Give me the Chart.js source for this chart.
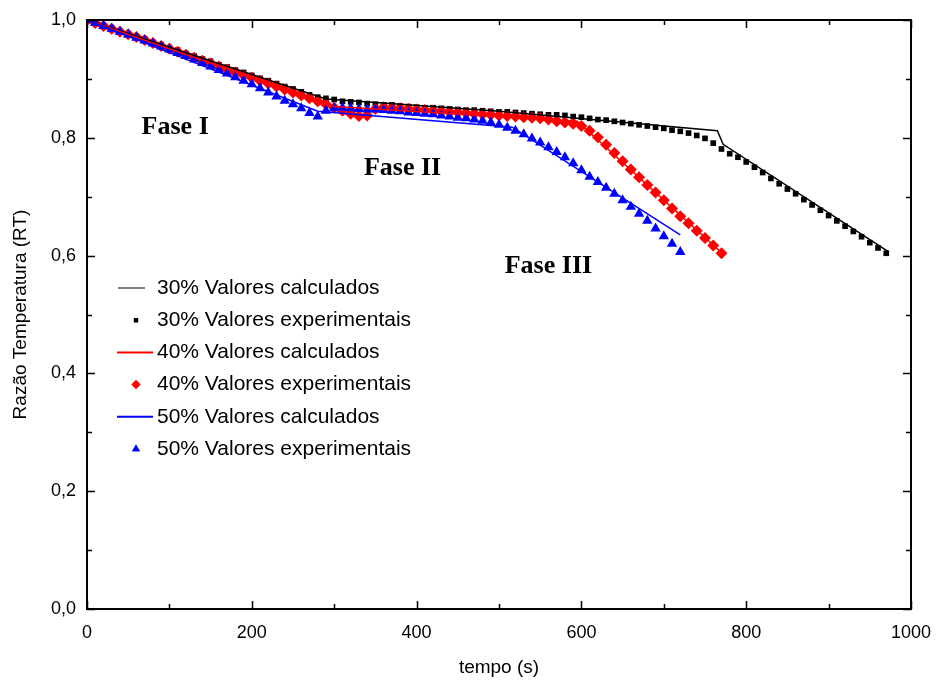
<!DOCTYPE html>
<html>
<head>
<meta charset="utf-8">
<script src="https://cdn.jsdelivr.net/npm/chart.js@4.4.1/dist/chart.umd.min.js"></script>
<style>
  html, body { margin: 0; padding: 0; background: #fff; }
  #wrap { width: 936px; height: 683px; }
</style>
</head>
<body>
<div id="wrap"><canvas id="rtChart" width="936" height="683"></canvas></div>
<script>
// tempo (s), one reading every 10 s
const tempo = [0,10,20,30,40,50,60,70,80,90,100,110,120,130,140,150,160,170,180,190,
  200,210,220,230,240,250,260,270,280,290,300,310,320,330,340,350,360,370,380,390,
  400,410,420,430,440,450,460,470,480,490,500,510,520,530,540,550,560,570,580,590,
  600,610,620,630,640,650,660,670,680,690,700,710,720,730,740,750,760,770,780,790,
  800,810,820,830,840,850,860,870,880,890,900,910,920,930,940,950,960,970]

// experimental values (RT)
const exp30 = [1.000,0.996,0.991,0.987,0.981,0.977,0.972,0.968,0.962,0.958,
  0.953,0.949,0.943,0.939,0.934,0.930,0.924,0.920,0.915,0.911,
  0.906,0.901,0.897,0.892,0.887,0.883,0.878,0.873,0.869,0.867,
  0.865,0.862,0.861,0.860,0.858,0.857,0.856,0.856,0.854,0.853,
  0.852,0.851,0.851,0.850,0.849,0.848,0.847,0.847,0.846,0.845,
  0.844,0.844,0.843,0.842,0.841,0.840,0.839,0.839,0.838,0.836,
  0.835,0.833,0.831,0.830,0.828,0.826,0.824,0.822,0.820,0.818,
  0.816,0.813,0.811,0.808,0.804,0.799,0.791,0.781,0.773,0.767,
  0.759,0.750,0.741,0.731,0.722,0.713,0.705,0.695,0.686,0.677,
  0.668,0.659,0.650,0.641,0.632,0.622,0.613,0.604]
const exp40 = [1.000,0.995,0.990,0.985,0.980,0.976,0.971,0.966,0.961,0.956,
  0.951,0.946,0.941,0.936,0.931,0.926,0.921,0.916,0.911,0.906,
  0.902,0.897,0.892,0.887,0.882,0.877,0.872,0.867,0.862,0.857,
  0.851,0.846,0.841,0.837,0.838,0.849,0.852,0.851,0.850,0.849,
  0.848,0.847,0.846,0.845,0.844,0.843,0.842,0.841,0.840,0.839,
  0.838,0.837,0.836,0.835,0.834,0.833,0.831,0.828,0.826,0.824,
  0.820,0.812,0.801,0.788,0.774,0.760,0.746,0.733,0.720,0.707,
  0.694,0.680,0.667,0.655,0.642,0.630,0.617,0.604]
const exp50 = [1.000,0.995,0.990,0.985,0.980,0.975,0.970,0.965,0.960,0.955,
  0.950,0.944,0.939,0.933,0.927,0.921,0.915,0.909,0.903,0.897,
  0.891,0.884,0.877,0.870,0.863,0.857,0.850,0.842,0.836,0.846,
  0.850,0.851,0.850,0.849,0.848,0.848,0.847,0.846,0.845,0.843,
  0.842,0.841,0.840,0.838,0.836,0.834,0.833,0.831,0.829,0.826,
  0.822,0.817,0.812,0.806,0.799,0.792,0.784,0.776,0.767,0.757,
  0.745,0.734,0.725,0.715,0.705,0.694,0.683,0.671,0.659,0.646,
  0.633,0.620,0.606]

// calculated values (RT)
const calc30T = [0, 290, 500, 765, 772, 972]
const calc30V = [1.000, 0.866, 0.845, 0.812, 0.789, 0.607]
const calc40T = [0, 300, 595, 770]
const calc40V = [1.000, 0.853, 0.828, 0.605]
const calc50T = [0, 280, 516, 720]
const calc50V = [1.000, 0.845, 0.818, 0.635]

const faseLabels = ['Fase I', 'Fase II', 'Fase III']
const faseT = [107, 383, 560]
const faseV = [0.818, 0.749, 0.582]

const xTicks = [0, 200, 400, 600, 800, 1000]
const yTicks = [0, 0.2, 0.4, 0.6, 0.8, 1.0]

const pts = (xs, ys) => ys.map((v, i) => ({ x: xs[i], y: v }))

const legendItems = [
  { text: '30% Valores calculados', color: '#000', kind: 'line', x0: 118, x1: 145 },
  { text: '30% Valores experimentais', color: '#000', kind: 'rect', r: 3 },
  { text: '40% Valores calculados', color: '#ff0000', kind: 'line', x0: 117, x1: 153 },
  { text: '40% Valores experimentais', color: '#ff0000', kind: 'rectRot', r: 4.5 },
  { text: '50% Valores calculados', color: '#0000ff', kind: 'line', x0: 117, x1: 153 },
  { text: '50% Valores experimentais', color: '#0000ff', kind: 'triangle', r: 4.5 }
]

const framePlugin = {
  id: 'frame',
  afterDatasetsDraw(chart) {
    const { ctx, chartArea: a, scales } = chart
    const x = scales.x, y = scales.y
    ctx.save()
    ctx.strokeStyle = '#000'
    ctx.lineWidth = 2
    ctx.strokeRect(a.left, a.top, a.right - a.left, a.bottom - a.top)
    ctx.lineWidth = 1.5
    ctx.beginPath()
    for (let v = 0; v <= 1000; v += 100) {
      const px = Math.round(x.getPixelForValue(v)) + 0.5
      const len = v % 200 === 0 ? 8 : 5
      ctx.moveTo(px, a.bottom); ctx.lineTo(px, a.bottom - len)
      ctx.moveTo(px, a.top); ctx.lineTo(px, a.top + len)
    }
    for (let k = 0; k <= 10; k++) {
      const py = Math.round(y.getPixelForValue(k / 10)) + 0.5
      const len = k % 2 === 0 ? 8 : 5
      ctx.moveTo(a.left, py); ctx.lineTo(a.left + len, py)
      ctx.moveTo(a.right, py); ctx.lineTo(a.right - len, py)
    }
    ctx.stroke()

    // phase labels
    ctx.fillStyle = '#000'
    ctx.font = 'bold 26px "Liberation Serif", "Times New Roman", serif'
    ctx.textAlign = 'center'
    ctx.textBaseline = 'middle'
    faseLabels.forEach((t, i) => {
      ctx.fillText(t, x.getPixelForValue(faseT[i]), y.getPixelForValue(faseV[i]))
    })

    // legend inside the plot
    ctx.font = '21px "Liberation Sans", Arial, sans-serif'
    ctx.textAlign = 'left'
    legendItems.forEach((it, i) => {
      const ly = 288 + i * 32.2
      ctx.fillStyle = it.color
      ctx.strokeStyle = it.color
      if (it.kind === 'line') {
        ctx.lineWidth = it.color === '#000' ? 1 : 2
        ctx.beginPath(); ctx.moveTo(it.x0, ly); ctx.lineTo(it.x1, ly); ctx.stroke()
      } else {
        Chart.helpers.drawPoint(ctx, { pointStyle: it.kind, radius: it.r, borderWidth: 0 }, 136, ly)
        ctx.fill()
      }
      ctx.fillStyle = '#000'
      ctx.fillText(it.text, 157, ly)
    })
    ctx.restore()
  }
}

const ctx = document.getElementById('rtChart').getContext('2d')
const config = {
  type: 'scatter',
  data: {
    datasets: [
      { label: '50% Valores calculados', data: pts(calc50T, calc50V), showLine: true,
        borderColor: '#0000ff', borderWidth: 1.5, pointRadius: 0, order: 1 },
      { label: '40% Valores calculados', data: pts(calc40T, calc40V), showLine: true,
        borderColor: '#ff0000', borderWidth: 1.5, pointRadius: 0, order: 2 },
      { label: '30% Valores calculados', data: pts(calc30T, calc30V), showLine: true,
        borderColor: '#000000', borderWidth: 1.5, pointRadius: 0, order: 3 },
      { label: '50% Valores experimentais', data: pts(tempo, exp50), pointStyle: 'triangle',
        pointRadius: 6, backgroundColor: '#0000ff', borderColor: '#0000ff', borderWidth: 0, order: 4 },
      { label: '40% Valores experimentais', data: pts(tempo, exp40), pointStyle: 'rectRot',
        pointRadius: 6, backgroundColor: '#ff0000', borderColor: '#ff0000', borderWidth: 0, order: 5 },
      { label: '30% Valores experimentais', data: pts(tempo, exp30), pointStyle: 'rect',
        pointRadius: 4, backgroundColor: '#000000', borderColor: '#000000', borderWidth: 0, order: 6 }
    ]
  },
  options: {
    responsive: false,
    animation: false,
    layout: { padding: { top: 20, right: 25, left: 0, bottom: 0 } },
    scales: {
      x: {
        type: 'linear', min: 0, max: 1000,
        afterBuildTicks: s => { s.ticks = xTicks.map(v => ({ value: v })) },
        afterFit: s => { s.height = 74; s.paddingLeft = 0; s.paddingRight = 0 },
        grid: { display: false, drawTicks: false },
        border: { display: false },
        ticks: { color: '#000', padding: 13, font: { family: 'Liberation Sans', size: 18 },
          callback: v => String(v) },
        title: { display: true, text: 'tempo (s)', color: '#000',
          font: { family: 'Liberation Sans', size: 19 }, padding: { top: 8, bottom: 4 } }
      },
      y: {
        type: 'linear', min: 0, max: 1,
        afterBuildTicks: s => { s.ticks = yTicks.map(v => ({ value: v })) },
        afterFit: s => { s.width = 87; s.paddingTop = 0; s.paddingBottom = 0 },
        grid: { display: false, drawTicks: false },
        border: { display: false },
        ticks: { color: '#000', padding: 11, font: { family: 'Liberation Sans', size: 18 },
          callback: v => v.toFixed(1).replace('.', ',') },
        title: { display: true, text: 'Razão Temperatura (RT)', color: '#000',
          font: { family: 'Liberation Sans', size: 19 }, padding: { top: 9, bottom: 4 } }
      }
    },
    plugins: {
      legend: { display: false },
      tooltip: { enabled: false }
    }
  },
  plugins: [framePlugin]
}
const rtChart = new Chart(ctx, config)
</script>
</body>
</html>
